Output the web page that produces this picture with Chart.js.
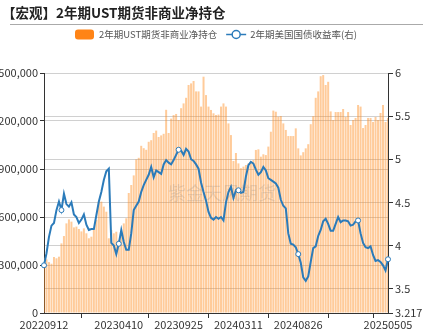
<!DOCTYPE html>
<html lang="zh">
<head>
  <meta charset="UTF-8" />
  <title>2年期UST期货非商业净持仓</title>
  <style>
    html, body { margin: 0; padding: 0; background: #fff; }
    #wrap { width: 423px; height: 330px; }
  </style>
</head>
<body>
  <div id="wrap"><canvas id="chart" width="423" height="330"></canvas></div>
  <script src="https://cdn.jsdelivr.net/npm/chart.js"></script>
  <script>
    const titleText = '【宏观】2年期UST期货非商业净持仓';
    const barName = '2年期UST期货非商业净持仓';
    const lineName = '2年期美国国债收益率(右)';
    const watermark = '紫金天风期货';

    // weekly report dates, first and last shown on the axis
    const firstDate = '2022-09-12';
    const weekCount = 139;
    const xTickIdx = [0, 30, 54, 78, 102, 126, 138];
    const xHiddenIdx = [126];
    const markerIdx = [0, 7, 30, 54, 78, 102, 126, 138];

    const leftTicks = [0, 300000, 600000, 900000, 1200000, 1500000];
    const rightTicks = [3.217, 3.5, 4, 4.5, 5, 5.5, 6];

    // net non-commercial position, contracts (thousands)
    const netPosK = [
      345, 335, 318, 308, 350, 342, 352, 435, 481, 560,
      585, 571, 535, 540, 525, 510, 529, 498, 467, 477,
      519, 581, 696, 696, 665, 633, 467, 519, 498, 508,
      456, 498, 560, 592, 750, 800, 860, 960, 970, 1045,
      1030, 1020, 1070, 1080, 1125, 1140, 1100, 1110, 1120, 1270,
      1125, 1215, 1237, 1244, 1206, 1280, 1310, 1345, 1425, 1435,
      1450, 1385, 1385, 1290, 1477, 1362, 1290, 1269, 1248, 1238,
      1240, 1290, 1310, 1290, 1185, 1112, 950, 1000, 935, 905,
      915, 925, 935, 945, 956, 1019, 1023, 977, 992, 987,
      1040, 1133, 1265, 1258, 1227, 1231, 1185, 1144, 1106, 1106,
      1106, 1154, 1029, 985, 1005, 1029, 1055, 1180, 1230, 1345,
      1385, 1480, 1487, 1425, 1445, 1260, 1206, 1256, 1256, 1256,
      1275, 1225, 1256, 1175, 1206, 1219, 1300, 1290, 1156, 1175,
      1219, 1219, 1194, 1225, 1206, 1250, 1300, 1194, 1219
    ];

    // 2y treasury yield, %
    const yield2y = [
      3.77, 3.91, 4.10, 4.23, 4.26, 4.41, 4.51, 4.41, 4.60, 4.48,
      4.45, 4.50, 4.36, 4.33, 4.26, 4.30, 4.36, 4.24, 4.18, 4.19,
      4.19, 4.35, 4.51, 4.62, 4.76, 4.86, 4.89, 4.03, 4.00, 3.90,
      4.02, 4.18, 4.04, 3.95, 3.95, 4.14, 4.41, 4.46, 4.51, 4.62,
      4.70, 4.76, 4.82, 4.91, 4.79, 4.87, 4.85, 4.83, 4.94, 4.99,
      4.96, 4.94, 4.99, 5.05, 5.11, 5.10, 5.05, 5.12, 5.09, 5.00,
      4.98, 4.94, 4.89, 4.73, 4.62, 4.52, 4.39, 4.32, 4.30, 4.33,
      4.31, 4.33, 4.29, 4.50, 4.62, 4.68, 4.55, 4.64, 4.64, 4.61,
      4.62, 4.80, 4.93, 4.97, 4.95, 4.88, 4.82, 4.85, 4.91, 4.87,
      4.78, 4.76, 4.74, 4.72, 4.67, 4.53, 4.46, 4.43, 4.14, 4.02,
      4.01, 3.98, 3.90, 3.80, 3.63, 3.59, 3.64, 3.81, 3.97, 3.99,
      4.11, 4.18, 4.28, 4.31, 4.25, 4.17, 4.17, 4.25, 4.33, 4.27,
      4.29, 4.29, 4.28, 4.23, 4.24, 4.28, 4.29, 4.14, 4.03, 3.98,
      3.97, 3.99, 3.89, 3.82, 3.83, 3.81, 3.77, 3.71, 3.84
    ];

    const dates = [];
    const d0 = new Date(firstDate + 'T00:00:00Z');
    for (let i = 0; i < weekCount; i++) {
      const d = new Date(d0.getTime() + i * 7 * 86400000);
      dates.push(d.toISOString().slice(0, 10).replace(/-/g, ''));
    }

    const FONT = '"Noto Sans CJK SC", "Noto Sans", sans-serif';
    const BLUE = '#2b7bba';
    const ORANGE = '#ff8416';

    const headerPlugin = {
      id: 'header',
      afterDatasetsDraw(chart) {
        const ctx = chart.ctx;
        ctx.save();
        ctx.font = '18px ' + FONT;
        ctx.fillStyle = 'rgba(120,120,120,0.2)';
        ctx.textAlign = 'center';
        ctx.textBaseline = 'middle';
        ctx.fillText(watermark, 222, 193);
        ctx.restore();
      },
      afterDraw(chart) {
        const ctx = chart.ctx;
        ctx.save();
        ctx.font = 'bold 13.5px ' + FONT;
        ctx.fillStyle = '#222';
        ctx.textBaseline = 'middle';
        ctx.fillText(titleText, 2, 13);

        ctx.strokeStyle = '#aaa';
        ctx.lineWidth = 1;
        ctx.beginPath(); ctx.moveTo(10, 24.5); ctx.lineTo(423, 24.5); ctx.stroke();

        // legend
        const ly = 34.5;
        let x = 75;
        ctx.fillStyle = ORANGE;
        ctx.beginPath(); ctx.roundRect(x, ly - 5, 19, 10, 3); ctx.fill();
        x += 24;
        ctx.font = '9.5px ' + FONT;
        ctx.fillStyle = '#555';
        ctx.fillText(barName, x, ly);
        x += ctx.measureText(barName).width + 9;
        ctx.strokeStyle = BLUE; ctx.lineWidth = 1.5;
        ctx.beginPath(); ctx.moveTo(x, ly); ctx.lineTo(x + 20, ly); ctx.stroke();
        ctx.beginPath(); ctx.arc(x + 10, ly, 4, 0, Math.PI * 2);
        ctx.fillStyle = '#fff'; ctx.fill(); ctx.stroke();
        x += 24;
        ctx.fillStyle = '#555';
        ctx.fillText(lineName, x, ly);
        ctx.restore();
      }
    };

    new Chart(document.getElementById('chart'), {
      data: {
        labels: dates,
        datasets: [
          {
            type: 'line', label: lineName, data: yield2y, yAxisID: 'y1', order: 0,
            borderColor: BLUE, borderWidth: 2, tension: 0,
            pointRadius: dates.map((_, i) => markerIdx.includes(i) ? 2.5 : 0),
            pointBackgroundColor: '#fff', pointBorderColor: BLUE, pointBorderWidth: 1
          },
          {
            type: 'bar', label: barName, data: netPosK.map(v => v * 1000), yAxisID: 'y', order: 1,
            backgroundColor: 'rgba(255,140,30,0.45)', barPercentage: 0.8, categoryPercentage: 1
          }
        ]
      },
      options: {
        responsive: false, animation: false, devicePixelRatio: 1,
        layout: { padding: { top: 73, left: 0, right: 0, bottom: 0 } },
        plugins: { legend: { display: false }, tooltip: { enabled: false } },
        scales: {
          x: {
            type: 'category', offset: false,
            grid: { drawOnChartArea: false, drawTicks: true, tickLength: 5, tickColor: '#333' },
            border: { color: '#333' },
            ticks: {
              autoSkip: false, maxRotation: 0, padding: 0, color: '#333', font: { family: FONT, size: 11 },
              callback(v) { return xHiddenIdx.includes(v) ? '' : this.getLabelForValue(v); }
            },
            afterBuildTicks: s => { s.ticks = xTickIdx.map(v => ({ value: v })); },
            afterFit: s => { s.height = 17; }
          },
          y: {
            position: 'left', min: 0, max: 1500000,
            grid: { color: '#d0d0d0', tickLength: 4, tickColor: '#333' },
            border: { color: '#333' },
            ticks: { padding: 2, color: '#333', font: { family: FONT, size: 11 }, callback: v => v.toLocaleString('en-US') },
            afterBuildTicks: s => { s.ticks = leftTicks.map(v => ({ value: v })); },
            afterFit: s => { s.width = 44; }
          },
          y1: {
            position: 'right', min: 3.217, max: 6,
            grid: { color: '#d0d0d0', tickLength: 5, tickColor: '#333' },
            border: { color: '#333' },
            ticks: { padding: 2, color: '#333', font: { family: FONT, size: 11 }, callback: v => String(v) },
            afterBuildTicks: s => { s.ticks = rightTicks.map(v => ({ value: v })); },
            afterFit: s => { s.width = 35; }
          }
        }
      },
      plugins: [headerPlugin]
    });
  </script>
</body>
</html>
